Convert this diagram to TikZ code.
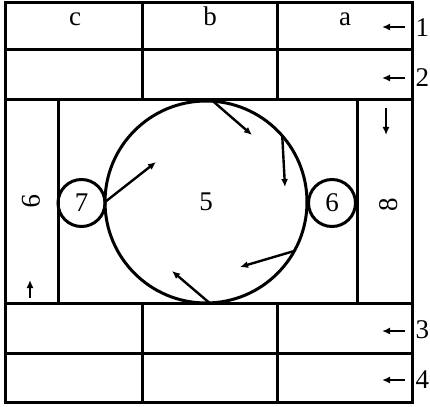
\documentclass[tikz,border=0pt]{standalone}
\usepackage{fontspec}
\setmainfont{Liberation Serif}
\usetikzlibrary{arrows.meta}
\begin{document}
\begin{tikzpicture}[x=1pt,y=-1pt,
  frame/.style={line width=3pt},
  ring/.style={circle,draw,line width=3pt,inner sep=0pt,outer sep=0pt},
  arr/.style={line width=2.4pt,-{Latex[length=8pt,width=7pt]}},
  lbl/.style={font=\fontsize{27}{31}\selectfont,inner sep=0pt}]
\useasboundingbox (0,0) rectangle (430,406);
% frame and grid
\draw[frame] (5,3) rectangle (412.5,402);
\draw[frame] (5,50) -- (412.5,50);
\draw[frame] (5,100) -- (412.5,100);
\draw[frame] (5,303) -- (412.5,303);
\draw[frame] (5,353) -- (412.5,353);
\draw[frame] (142,3) -- (142,100);
\draw[frame] (277.5,3) -- (277.5,100);
\draw[frame] (142,303) -- (142,402);
\draw[frame] (277.5,303) -- (277.5,402);
\draw[frame] (58,100) -- (58,303);
\draw[frame] (357,100) -- (357,303);
% column letters
\node[lbl,anchor=base] (lc) at (75,26) {c};
\node[lbl,anchor=base] (lb) at (210,26) {b};
\node[lbl,anchor=base] (la) at (345,26) {a};
% circles
\node[ring,minimum size=202pt,lbl] (c5) at (206,202) {5};
\node[ring,minimum size=47pt,lbl] (c7) at (81.5,203) {7};
\node[ring,minimum size=47pt,lbl] (c6) at (332,203) {6};
% strip labels
\node[lbl,rotate=-90] (n9) at (31,201) {9};
\node[lbl,rotate=90] (n8) at (389,205) {8};
% arrows inside circle
\coordinate (ta) at (156,162);
\coordinate (tb) at (172,271);
\coordinate (tc) at (252,135);
\coordinate (td) at (285,187);
\coordinate (te) at (240,267);
\draw[arr] (c5.180) -- (ta);
\draw[arr] (c5.-88) -- (tb);
\draw[arr] (c5.86) -- (tc);
\draw[arr] (c5.41) -- (td);
\draw[arr] (c5.-29) -- (te);
% strip arrows
\coordinate (s9a) at (30,298);
\coordinate (s9b) at (30,280);
\coordinate (s8a) at (386,108);
\coordinate (s8b) at (386,135);
\draw[arr] (s9a) -- (s9b);
\draw[arr] (s8a) -- (s8b);
% row arrows and labels
\foreach \y/\b/\t in {27/37/1,78/87/2,331/338/3,380/388/4}{
  \coordinate (ra\t) at (405,\y);
  \coordinate (rb\t) at (382,\y);
  \draw[arr] (ra\t) -- (rb\t);
  \node[lbl,anchor=base west] (rl\t) at (415.5,\b) {\t};
}
\end{tikzpicture}
\end{document}
